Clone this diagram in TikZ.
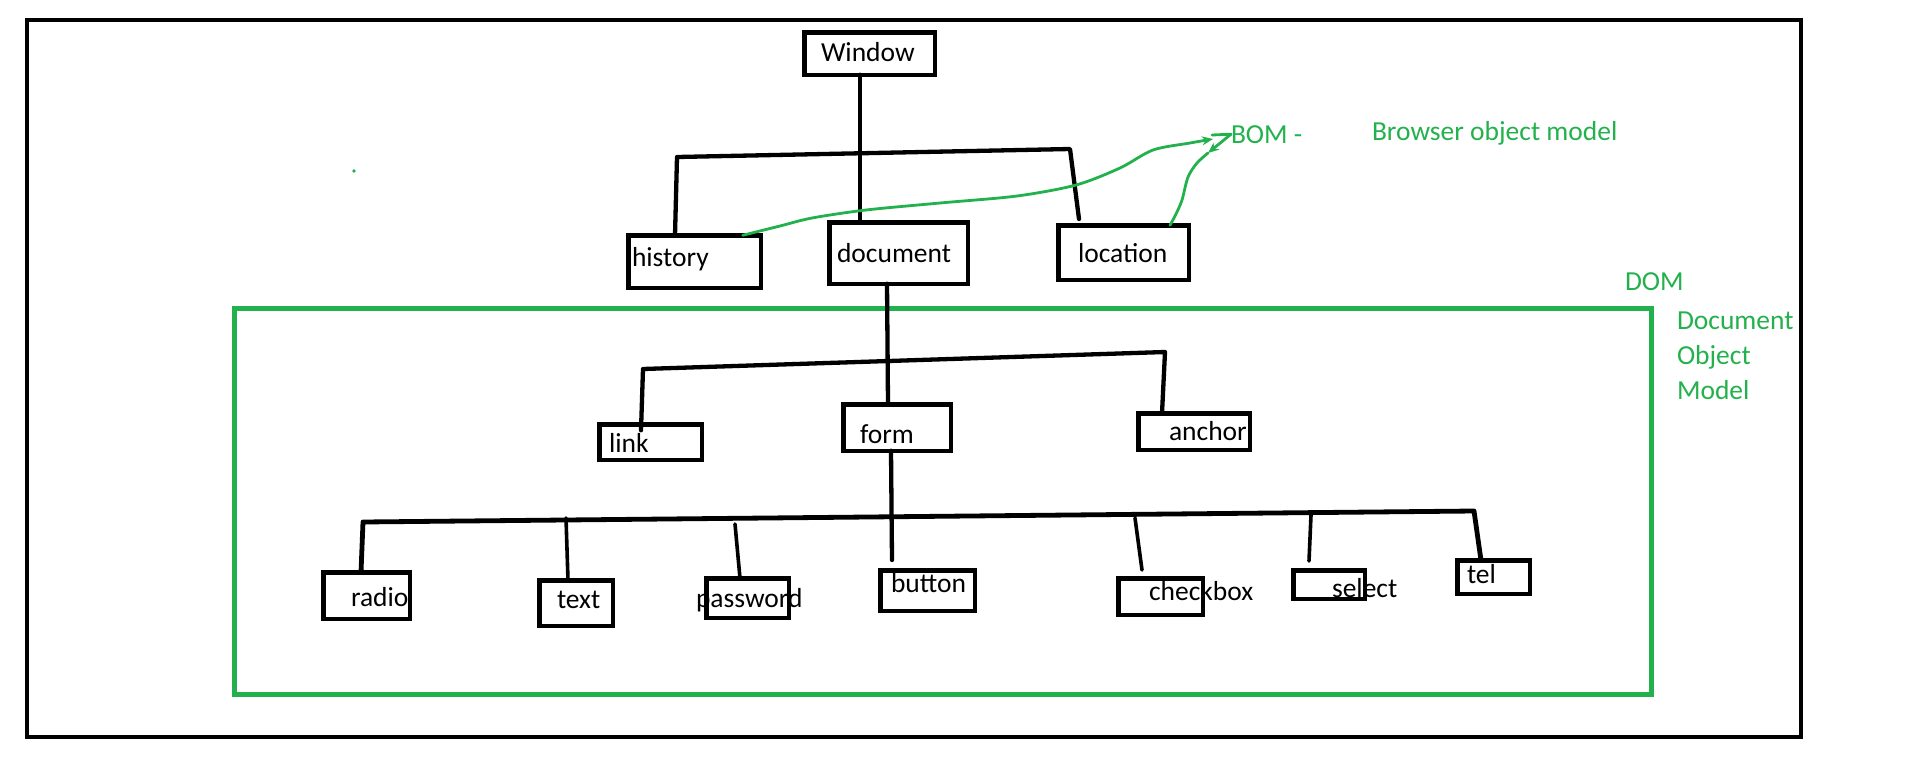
\documentclass[tikz,border=0pt]{standalone}
\usepackage{fontspec}
\setmainfont{Carlito}
\usetikzlibrary{arrows.meta}
\definecolor{pgreen}{RGB}{34,177,76}
\begin{document}
\begin{tikzpicture}[x=1pt,y=-1pt,
  nodebox/.style={draw, line width=4.5pt, inner sep=0pt, outer sep=0pt},
  lbl/.style={anchor=base west, inner sep=0pt, outer sep=0pt, font=\fontsize{27.5}{33}\selectfont},
  glbl/.style={lbl, text=pgreen},
  conn/.style={line width=4.3pt, line cap=round, line join=round},
  thin conn/.style={line width=3.6pt, line cap=round, line join=round},
  gline/.style={draw=pgreen, line width=2.8pt, line cap=round, line join=round},
  gtip/.style={-{Stealth[length=11pt,width=9pt]}}
]
\useasboundingbox (0,0) rectangle (1914,782);
% frames
\draw[line width=4.8pt] (27,20) rectangle (1801,737);
\draw[draw=pgreen, line width=5pt] (234.5,308.5) rectangle (1651.5,694.5);

% boxes
\node[nodebox, minimum width=130.5pt, minimum height=42.5pt] (win) at (869.5,53.5) {};
\node[nodebox, minimum width=132.5pt, minimum height=52.5pt] (hist) at (694.5,261.5) {};
\node[nodebox, minimum width=138.5pt, minimum height=61.5pt] (doc) at (898.5,253) {};
\node[nodebox, minimum width=130.5pt, minimum height=54.5pt] (loc) at (1123.5,252.5) {};
\node[nodebox, minimum width=102.5pt, minimum height=35.5pt] (link) at (650.5,442) {};
\node[nodebox, minimum width=107.5pt, minimum height=46.5pt] (form) at (897,427.5) {};
\node[nodebox, minimum width=111.5pt, minimum height=36.5pt] (anc) at (1194,431.5) {};
\node[nodebox, minimum width=86.5pt, minimum height=46.5pt] (radio) at (366.5,595.5) {};
\node[nodebox, minimum width=73.5pt, minimum height=45.5pt] (txt) at (576,603) {};
\node[nodebox, minimum width=82.5pt, minimum height=39.5pt] (pass) at (747.5,598) {};
\node[nodebox, minimum width=94.5pt, minimum height=40.5pt] (btn) at (927.5,590.5) {};
\node[nodebox, minimum width=84.5pt, minimum height=36.5pt] (chk) at (1160.5,596.5) {};
\node[nodebox, minimum width=71.5pt, minimum height=28.5pt] (sel) at (1329,584.5) {};
\node[nodebox, minimum width=72.5pt, minimum height=33.5pt] (tel) at (1493.5,577) {};

% labels
\node[lbl] (winT) at (821,61) {Window};
\node[lbl] (histT) at (632,266) {history};
\node[lbl] (docT) at (837,262) {document};
\node[lbl] (locT) at (1078,262) {location};
\node[lbl] (linkT) at (609,452) {link};
\node[lbl] (formT) at (860,443) {form};
\node[lbl] (ancT) at (1169,440) {anchor};
\node[lbl] (radioT) at (351,606) {radio};
\node[lbl] (txtT) at (557,608) {text};
\node[lbl] (passT) at (696,607) {password};
\node[lbl] (btnT) at (891,592) {button};
\node[lbl] (chkT) at (1149,600) {checkbox};
\node[lbl] (selT) at (1332,597) {select};
\node[lbl] (telT) at (1467,583) {tel};

% level 1
\coordinate (b1L) at (677,157);
\coordinate (b1R) at (1070,149);
\coordinate (locTip) at (1079,219);
\draw[conn] ([xshift=-9.5pt]win.south) -- ([xshift=-38.5pt]doc.north);
\draw[conn] ([xshift=-19.5pt]hist.north) -- (b1L) -- (b1R) -- (locTip);

% level 2
\coordinate (b2L) at (643,369);
\coordinate (b2R) at (1165,352);
\draw[conn] ([xshift=-11.5pt]doc.south) -- ([xshift=-9pt]form.north);
\draw[conn] ([xshift=-9.5pt,yshift=-6pt]link.north) -- (b2L) -- (b2R) -- ([xshift=-32pt]anc.north);

% level 3
\coordinate (btnTip) at (892,560);
\coordinate (b3L) at (363,522);
\coordinate (b3R) at (1474,511);
\coordinate (tTop) at (566,518);
\coordinate (pTop) at (735,524);
\coordinate (cTop) at (1135,518);
\coordinate (cBot) at (1142,570);
\coordinate (sTop) at (1311,515);
\coordinate (sBot) at (1309,561);
\draw[conn] ([xshift=-6pt]form.south) -- (btnTip);
\draw[conn, line width=4.8pt] ([xshift=-5.5pt]radio.north) -- (b3L) -- (b3R) -- ([xshift=-12.5pt]tel.north);
\draw[thin conn] (tTop) -- ([xshift=-8pt]txt.north);
\draw[thin conn] (pTop) -- ([xshift=-7.5pt]pass.north);
\draw[thin conn] (cTop) -- (cBot);
\draw[thin conn] (sTop) -- (sBot);

% green annotations
\node[glbl] (bom) at (1231,143) {BOM -};
\node[glbl] (bomD) at (1372,140) {Browser object model};
\node[glbl] (dom) at (1625,290) {DOM};
\node[glbl] (domD1) at (1677,329) {Document};
\node[glbl] (domD2) at (1677,364) {Object};
\node[glbl] (domD3) at (1677,399) {Model};

\coordinate (g1tip) at (1213,139);
\coordinate (g2tip) at (1208,153);
\draw[gline, gtip] plot[smooth, tension=0.5] coordinates {([xshift=-18pt]hist.north east) (780,226) (812,218) (866,210) (940,203) (1017,196) (1076,185) (1120,168) (1153,150) (1190,143) (g1tip)};
\draw[gline] ([xshift=-1pt,yshift=4pt]g1tip) -- (bom.west);
\draw[gline, gtip] (bom.west) -- (g2tip);
\draw[gline] plot[smooth, tension=0.5] coordinates {(g2tip) (1197,163) (1188,177) (1182,200) (1176,214) ([xshift=46.5pt]loc.north)};
\fill[pgreen] (354,171) circle (1.8pt);
\end{tikzpicture}
\end{document}
